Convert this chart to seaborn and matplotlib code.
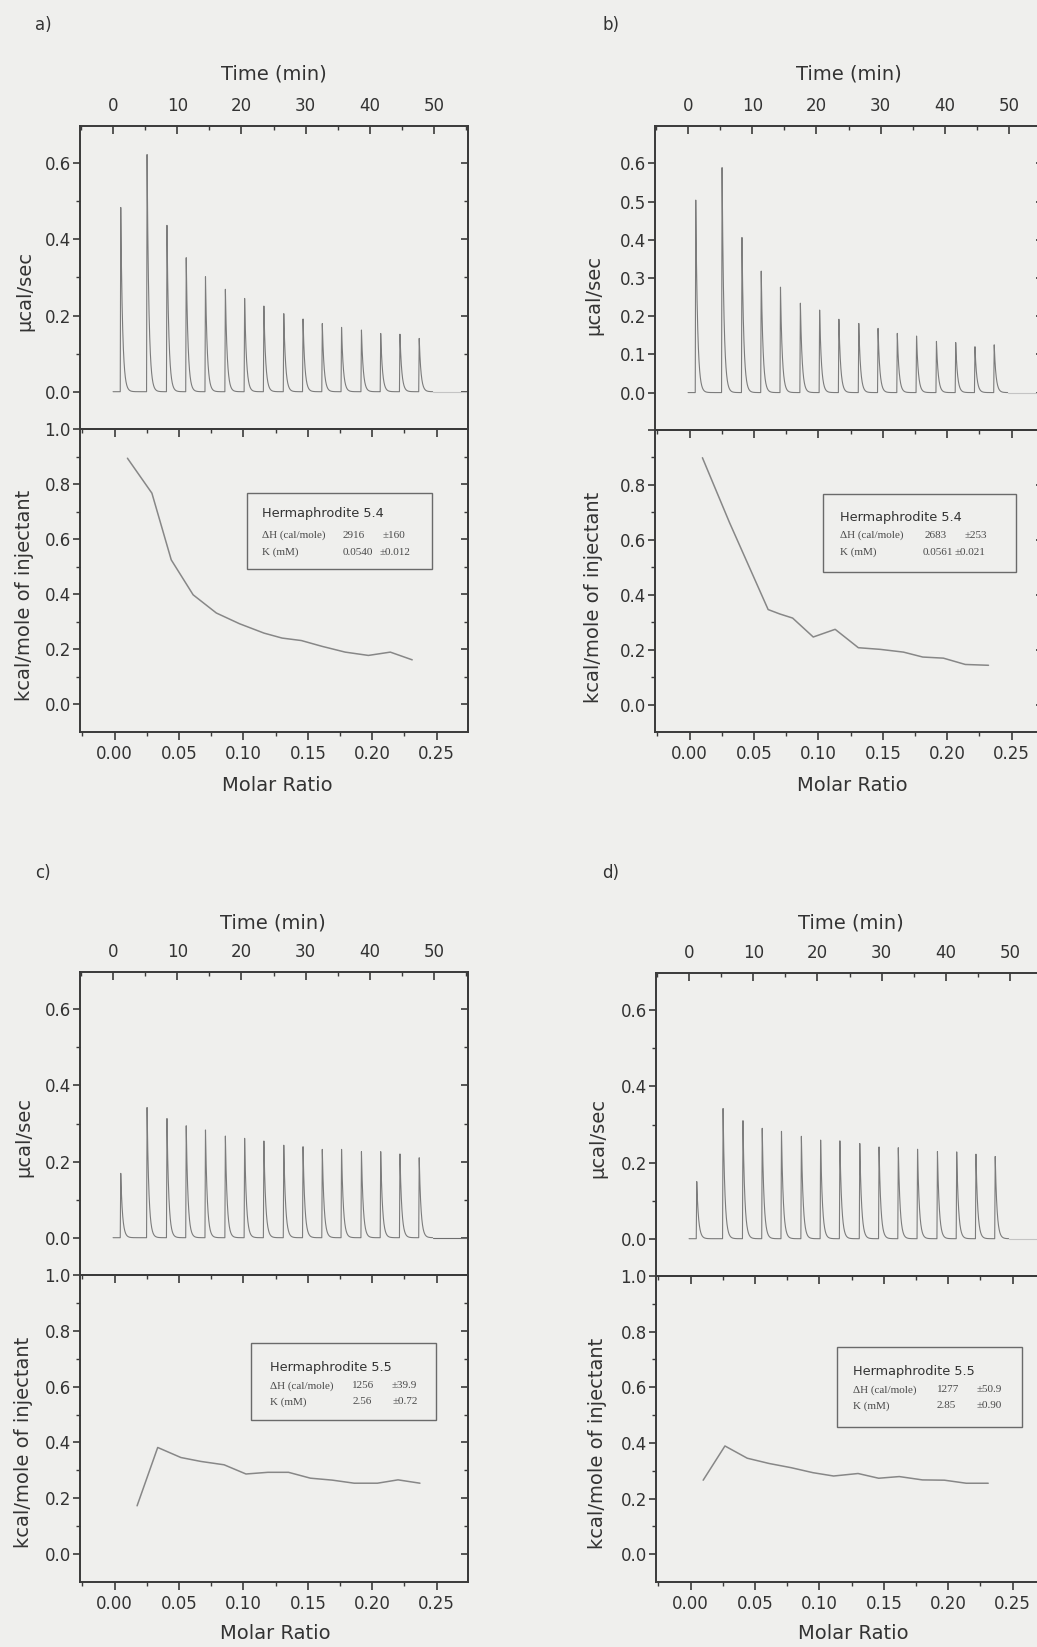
import numpy as np
import pandas as pd
import matplotlib
matplotlib.use("Agg")
import matplotlib.pyplot as plt
from matplotlib.ticker import MultipleLocator, FixedLocator
import seaborn as sns

sns.set_theme(style="ticks")
plt.rcParams["font.family"] = ["DejaVu Sans"]

# ---------------------------------------------------------------- data
# injection times (min), shared by all four titrations
INJ_TIME = [1.2, 5.3, 8.4, 11.4, 14.4, 17.5, 20.5, 23.5, 26.6, 29.6,
            32.6, 35.6, 38.7, 41.7, 44.7, 47.7]

# peak heights of the raw thermograms (ucal/sec)
PEAK_A = [0.484, 0.623, 0.437, 0.352, 0.302, 0.269, 0.245, 0.225, 0.205,
          0.191, 0.179, 0.169, 0.162, 0.153, 0.151, 0.140]
PEAK_B = [0.504, 0.589, 0.406, 0.318, 0.276, 0.234, 0.216, 0.192, 0.181,
          0.168, 0.155, 0.148, 0.134, 0.131, 0.120, 0.125]
PEAK_C = [0.169, 0.342, 0.313, 0.294, 0.283, 0.267, 0.261, 0.254, 0.243,
          0.239, 0.232, 0.232, 0.226, 0.226, 0.220, 0.210]
PEAK_D = [0.150, 0.342, 0.310, 0.290, 0.282, 0.269, 0.259, 0.257, 0.250,
          0.241, 0.239, 0.235, 0.229, 0.228, 0.222, 0.216]

# integrated heats (kcal/mole of injectant) vs molar ratio
RATIO_A = [0.010, 0.029, 0.044, 0.061, 0.079, 0.097, 0.116, 0.130, 0.145,
           0.161, 0.179, 0.197, 0.214, 0.231]
HEAT_A = [0.894, 0.767, 0.525, 0.398, 0.332, 0.293, 0.259, 0.241, 0.232,
          0.211, 0.190, 0.178, 0.190, 0.162]
RATIO_B = [0.010, 0.031, 0.047, 0.061, 0.070, 0.080, 0.096, 0.113, 0.131,
           0.148, 0.166, 0.181, 0.197, 0.214, 0.232]
HEAT_B = [0.899, 0.663, 0.494, 0.346, 0.330, 0.315, 0.246, 0.274, 0.207,
          0.201, 0.191, 0.173, 0.169, 0.146, 0.143]
RATIO_C = [0.0175, 0.0335, 0.0515, 0.067, 0.085, 0.102, 0.119, 0.135, 0.152,
           0.169, 0.186, 0.204, 0.220, 0.237]
HEAT_C = [0.173, 0.382, 0.346, 0.332, 0.320, 0.287, 0.293, 0.293, 0.272,
          0.265, 0.254, 0.254, 0.266, 0.254]
RATIO_D = [0.0098, 0.0267, 0.044, 0.061, 0.078, 0.095, 0.111, 0.130, 0.146,
           0.162, 0.180, 0.197, 0.214, 0.231]
HEAT_D = [0.266, 0.389, 0.345, 0.326, 0.311, 0.293, 0.281, 0.290, 0.273,
          0.279, 0.267, 0.266, 0.255, 0.255]

# fit results shown in each panel
PANEL_LETTERS = ["a)", "b)", "c)", "d)"]
SAMPLE_NAMES = ["Hermaphrodite 5.4", "Hermaphrodite 5.4",
                "Hermaphrodite 5.5", "Hermaphrodite 5.5"]
DH_VALUES = ["2916", "2683", "1256", "1277"]
DH_ERRORS = ["\u00b1160", "\u00b1253", "\u00b139.9", "\u00b150.9"]
K_VALUES = ["0.0540", "0.0561", "2.56", "2.85"]
K_ERRORS = ["\u00b10.012", "\u00b10.021", "\u00b10.72", "\u00b10.90"]

# ---------------------------------------------------------------- style
W, H = 1037, 1647
BG = "#efefed"
INK = "#333333"
SPINE = "#3a3a3a"
TRACE = "#7c7c7c"

fig = plt.figure(figsize=(W / 100, H / 100), dpi=100, facecolor=BG)


def fx(px):
    return px / W


def fy(py):
    return 1 - py / H


def thermogram(times, heights, t_end, rise=0.08, tau=0.28):
    t = np.arange(0.0, t_end, 0.01)
    y = np.zeros_like(t)
    for t0, h in zip(times, heights):
        dt = t - t0
        up = (dt >= -rise) & (dt < 0)
        y[up] += h * (dt[up] + rise) / rise
        down = dt >= 0
        y[down] += h * np.exp(-dt[down] / tau)
    return t, y


def style_spines(ax):
    for s in ax.spines.values():
        s.set_color(SPINE)
        s.set_linewidth(1.4)


# panel frames in pixels: left, right, top, middle, bottom
FRAMES = [
    (80, 468, 126, 429, 732),
    (655, 1043, 126, 430, 732),
    (80, 468, 972, 1275, 1582),
    (656, 1044, 973, 1276, 1582),
]
# label anchors in pixels
LETTER_POS = [(35, 25), (602, 25), (35, 873), (602, 873)]
TIME_LABEL = [(274, 80), (849, 80), (273, 929), (851, 929)]
MOLAR_LABEL = [(277, 776), (852, 776), (275, 1624), (853, 1624)]
YLAB_X = [34, 603, 33, 607]
UCAL_Y = [291, 295, 1137, 1138]
KCAL_Y = [595, 597, 1442, 1443]
# fit box: left, top, right, bottom
BOXES = [
    (247, 493, 432, 569),
    (823, 494, 1016, 572),
    (251, 1343, 436, 1420),
    (837, 1347, 1022, 1427),
]
# text columns: name, dH value, dH error, K value, K error
BOX_COLS = [(262, 343, 383, 343, 380), (840, 925, 965, 923, 955),
            (270, 352, 392, 353, 393), (853, 937, 977, 937, 977)]
BOX_ROWS = [(513, 535, 552), (517, 535, 552), (1367, 1386, 1402),
            (1372, 1390, 1406)]

peaks = [PEAK_A, PEAK_B, PEAK_C, PEAK_D]
ratios = [RATIO_A, RATIO_B, RATIO_C, RATIO_D]
heats = [HEAT_A, HEAT_B, HEAT_C, HEAT_D]

for i in range(4):
    L, R, T, M, B = FRAMES[i]
    ax_top = fig.add_axes([fx(L), fy(M), fx(R - L), (M - T) / H])
    ax_bot = fig.add_axes([fx(L), fy(B), fx(R - L), (B - M) / H])
    for ax in (ax_top, ax_bot):
        ax.set_facecolor(BG)
        style_spines(ax)

    # ---- raw heat flow
    t, y = thermogram(INJ_TIME, peaks[i], 49.8)
    df = pd.DataFrame({"time": t, "power": y})
    sns.lineplot(data=df, x="time", y="power", ax=ax_top, color=TRACE,
                 linewidth=0.8, estimator=None, sort=False)
    tail = pd.DataFrame({"time": [49.8, 56.0], "power": [0.0, 0.0]})
    sns.lineplot(data=tail, x="time", y="power", ax=ax_top,
                 color="#6e6e6e" if i == 2 else "#c4c4c4",
                 linewidth=0.8, estimator=None, sort=False)
    ax_top.set_xlim(-5.15, 55.3)
    ax_top.set_ylim(-0.098, 0.698)
    ax_top.spines["bottom"].set_visible(False)
    ax_top.xaxis.tick_top()
    ax_top.xaxis.set_major_locator(MultipleLocator(10))
    ax_top.xaxis.set_minor_locator(MultipleLocator(5))
    ax_top.tick_params(axis="x", which="both", direction="in", top=True,
                       bottom=False, labeltop=True, labelbottom=False,
                       colors=SPINE, labelcolor=INK)
    ax_top.tick_params(axis="x", which="major", length=5.5, width=1.2,
                       pad=8, labelsize=12)
    ax_top.tick_params(axis="x", which="minor", length=3, width=1.0)
    if i == 1:
        ax_top.yaxis.set_major_locator(MultipleLocator(0.1))
        ax_top.yaxis.set_minor_locator(FixedLocator([]))
    else:
        ax_top.yaxis.set_major_locator(FixedLocator([0.0, 0.2, 0.4, 0.6]))
        ax_top.yaxis.set_minor_locator(FixedLocator([0.1, 0.3, 0.5]))
    ax_top.yaxis.set_major_formatter(matplotlib.ticker.FormatStrFormatter("%.1f"))
    ax_top.tick_params(axis="y", which="both", direction="out", left=True,
                       right=False, colors=SPINE, labelcolor=INK)
    ax_top.tick_params(axis="y", which="major", length=5, width=1.2,
                       pad=1.5, labelsize=12)
    ax_top.tick_params(axis="y", which="minor", length=3, width=1.0)
    sec = ax_top.secondary_yaxis("right")
    sec.yaxis.set_major_locator(ax_top.yaxis.get_major_locator())
    sec.yaxis.set_minor_locator(ax_top.yaxis.get_minor_locator())
    sec.tick_params(which="both", direction="in", labelright=False,
                    colors=SPINE)
    sec.tick_params(which="major", length=5, width=1.2)
    sec.tick_params(which="minor", length=3, width=1.0)
    style_spines(sec)

    ax_top.set_xlabel("Time (min)", fontsize=14, color=INK)
    ax_top.xaxis.set_label_position("top")
    ax_top.xaxis.set_label_coords(fx(TIME_LABEL[i][0]), fy(TIME_LABEL[i][1]),
                                  transform=fig.transFigure)
    ax_top.set_ylabel("\u03bccal/sec", fontsize=14, color=INK)
    ax_top.yaxis.set_label_coords(fx(YLAB_X[i]), fy(UCAL_Y[i]),
                                  transform=fig.transFigure)

    # ---- integrated heats
    dfb = pd.DataFrame({"ratio": ratios[i], "heat": heats[i]})
    sns.lineplot(data=dfb, x="ratio", y="heat", ax=ax_bot, color="#878787",
                 linewidth=1.1, estimator=None, sort=False)
    ax_bot.set_xlim(-0.0268, 0.2743)
    ax_bot.set_ylim(-0.1, 1.0)
    ax_bot.xaxis.set_major_locator(MultipleLocator(0.05))
    ax_bot.xaxis.set_minor_locator(MultipleLocator(0.025))
    ax_bot.xaxis.set_major_formatter(matplotlib.ticker.FormatStrFormatter("%.2f"))
    ax_bot.tick_params(axis="x", which="both", direction="out", bottom=True,
                       top=False, colors=SPINE, labelcolor=INK)
    ax_bot.tick_params(axis="x", which="major", length=5.5, width=1.2,
                       pad=4, labelsize=12)
    ax_bot.tick_params(axis="x", which="minor", length=3, width=1.0)
    secx = ax_bot.secondary_xaxis("top")
    secx.xaxis.set_major_locator(MultipleLocator(0.05))
    secx.xaxis.set_minor_locator(MultipleLocator(0.025))
    secx.tick_params(which="both", direction="in", labeltop=False,
                     colors=SPINE)
    secx.tick_params(which="major", length=5.5, width=1.2)
    secx.tick_params(which="minor", length=3, width=1.0)
    style_spines(secx)

    ax_bot.yaxis.set_major_locator(FixedLocator([0.0, 0.2, 0.4, 0.6, 0.8, 1.0]))
    ax_bot.yaxis.set_minor_locator(FixedLocator([0.1, 0.3, 0.5, 0.7, 0.9]))
    if i == 1:
        ax_bot.yaxis.set_major_formatter(matplotlib.ticker.FuncFormatter(
            lambda v, p: "" if v > 0.95 else f"{v:.1f}"))
    else:
        ax_bot.yaxis.set_major_formatter(matplotlib.ticker.FormatStrFormatter("%.1f"))
    ax_bot.tick_params(axis="y", which="both", direction="out", left=True,
                       right=False, colors=SPINE, labelcolor=INK)
    ax_bot.tick_params(axis="y", which="major", length=5, width=1.2,
                       pad=1.5, labelsize=12)
    ax_bot.tick_params(axis="y", which="minor", length=3, width=1.0)
    secy = ax_bot.secondary_yaxis("right")
    secy.yaxis.set_major_locator(FixedLocator([0.0, 0.2, 0.4, 0.6, 0.8, 1.0]))
    secy.yaxis.set_minor_locator(FixedLocator([0.1, 0.3, 0.5, 0.7, 0.9]))
    secy.tick_params(which="both", direction="in", labelright=False,
                     colors=SPINE)
    secy.tick_params(which="major", length=5, width=1.2)
    secy.tick_params(which="minor", length=3, width=1.0)
    style_spines(secy)

    ax_bot.set_xlabel("Molar Ratio", fontsize=14, color=INK)
    ax_bot.xaxis.set_label_coords(fx(MOLAR_LABEL[i][0]), fy(MOLAR_LABEL[i][1]),
                                  transform=fig.transFigure)
    ax_bot.set_ylabel("kcal/mole of injectant", fontsize=14, color=INK)
    ax_bot.yaxis.set_label_coords(fx(YLAB_X[i]), fy(KCAL_Y[i]),
                                  transform=fig.transFigure)

    # ---- fit result box
    bl, bt, br, bb = BOXES[i]
    box = matplotlib.patches.Rectangle((fx(bl), fy(bb)), fx(br - bl),
                                       (bb - bt) / H, transform=fig.transFigure,
                                       facecolor="none", edgecolor="#6a6a6a",
                                       linewidth=1.0, zorder=5)
    fig.add_artist(box)
    c0, c1, c2, c3, c4 = BOX_COLS[i]
    r0, r1, r2 = BOX_ROWS[i]
    fig.text(fx(c0), fy(r0), SAMPLE_NAMES[i], fontsize=9.3, color=INK,
             va="center", ha="left")
    serif = dict(fontsize=8, color="#4a4a4a", va="center", ha="left",
                 family=["Liberation Serif", "DejaVu Serif"])
    fig.text(fx(c0), fy(r1), "\u0394H (cal/mole)", **serif)
    fig.text(fx(c1), fy(r1), DH_VALUES[i], **serif)
    fig.text(fx(c2), fy(r1), DH_ERRORS[i], **serif)
    fig.text(fx(c0), fy(r2), "K (mM)", **serif)
    fig.text(fx(c3), fy(r2), K_VALUES[i], **serif)
    fig.text(fx(c4), fy(r2), K_ERRORS[i], **serif)

    fig.text(fx(LETTER_POS[i][0]), fy(LETTER_POS[i][1]), PANEL_LETTERS[i],
             fontsize=12, color=INK, va="center", ha="left")

fig.savefig("out.png", dpi=100, facecolor=BG)
